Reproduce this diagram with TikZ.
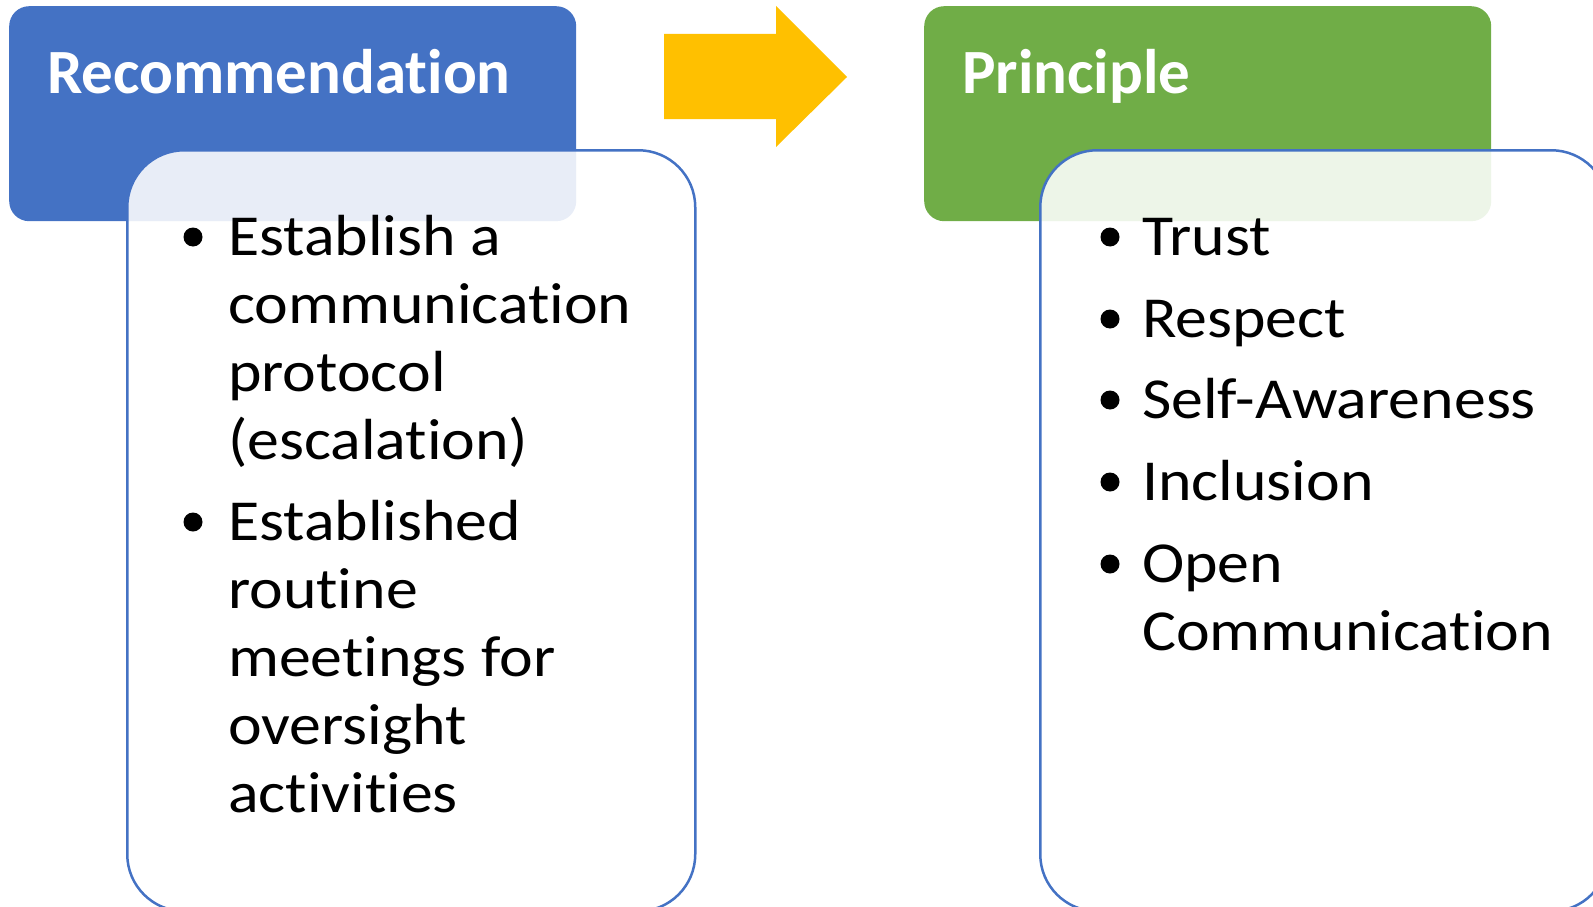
\documentclass[tikz,border=0pt]{standalone}
\usepackage{fontspec}
\setmainfont{Carlito}[Ligatures=NoCommon]
\newfontfamily\corps{Carlito}[Ligatures=NoCommon,FakeStretch=1.1]
\usepackage{tikz}
\usetikzlibrary{calc,shapes}
\usepackage{color}
\definecolor{bleu}{HTML}{4472C4}
\definecolor{vert}{HTML}{70AD47}
\definecolor{jaune}{HTML}{FFC000}

\begin{document}
\begin{tikzpicture}[x=1pt,y=-1pt,
	entete/.style={rounded corners=20pt,anchor=north west,minimum width=567pt,minimum height=215pt,inner sep=0pt},
	cadre/.style={draw=bleu,line width=2.5pt,fill=white,fill opacity=0.88,rounded corners=57pt,anchor=north west,minimum width=568pt,minimum height=761pt,inner sep=0pt},
	titre/.style={anchor=base west,text=white,inner sep=0pt,font=\fontsize{63}{63}\selectfont\bfseries},
	ligne/.style={anchor=base west,inner sep=0pt,font=\corps\fontsize{58}{58}\selectfont},
	puce/.style={circle,fill=black,inner sep=0pt,minimum size=19pt}]
				\useasboundingbox (0,0) rectangle (1593,907);
				\clip (0,0) rectangle (1593,907);
				% En-têtes
				\node [entete,fill=bleu] (reco) at (9,6) {};
				\node [entete,fill=vert] (princ) at (924,6) {};
				% Flèche
				\fill [jaune] (664,34) -- (776,34) -- (776,6) -- (847,77) -- (776,147) -- (776,119) -- (664,119) -- cycle;
				% Cadres
				\node [cadre] (listereco) at (126,149) {};
				\node [cadre] (listeprinc) at (1039,149) {};
				\node [titre] (titrereco) at (47,93) {Recommendation};
				\node [titre] (titreprinc) at (962,93) {Principle};
				% Listes
				\foreach \txt/\yy [count=\i] in {Establish a/255, communication/323, protocol/391, {(escalation)}/459, Established/540, routine/608, meetings for/676, oversight/744, activities/812}
					\node [ligne] (lr\i) at (228,\yy) {\txt};
				\foreach \txt/\yy [count=\i] in {Trust/255, Respect/337, Self-Awareness/418, Inclusion/500, Open/582, Communication/650}
					\node [ligne] (lp\i) at (1142,\yy) {\txt};
				\foreach \yy [count=\i] in {255,540}
					\node [puce] (pr\i) at (193,\yy-18) {};
				\foreach \yy [count=\i] in {255,337,418,500,582}
					\node [puce] (pp\i) at (1110,\yy-18) {};
\end{tikzpicture}
\end{document}
